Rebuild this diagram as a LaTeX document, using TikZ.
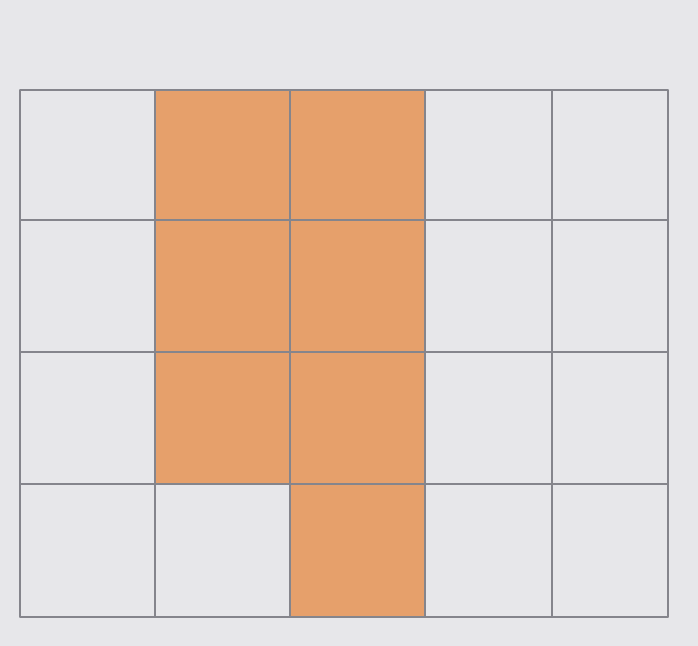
\documentclass[tikz,border=0pt]{standalone}
\definecolor{paper}{HTML}{E7E7EA}
\definecolor{cellfill}{HTML}{E6A06B}
\definecolor{gridline}{HTML}{85858C}
\begin{document}
\begin{tikzpicture}[
  x=0.2mm, y=-0.2mm,
  cell/.style={fill=cellfill},
  grid/.style={draw=gridline, line width=0.6pt, line cap=round},
]

% ---------------- paper ----------------
\fill[paper] (0,0) rectangle (698,646);

% ---------------- grid positions ----------------
\foreach \x [count=\i] in {20,155,290,425,552,668}
  \coordinate (c\i) at (\x,0);
\foreach \y [count=\j] in {90,220,352,484,617}
  \coordinate (r\j) at (0,\y);

% ---------------- shaded cells ----------------
\fill[cell] (c2 |- r1) rectangle (c4 |- r4);
\fill[cell] (c3 |- r4) rectangle (c4 |- r5);

% ---------------- lines ----------------
\foreach \i in {1,...,6}
  \draw[grid] (c\i |- r1) -- (c\i |- r5);
\foreach \j in {1,...,5}
  \draw[grid] (c1 |- r\j) -- (c6 |- r\j);

\end{tikzpicture}
\end{document}
